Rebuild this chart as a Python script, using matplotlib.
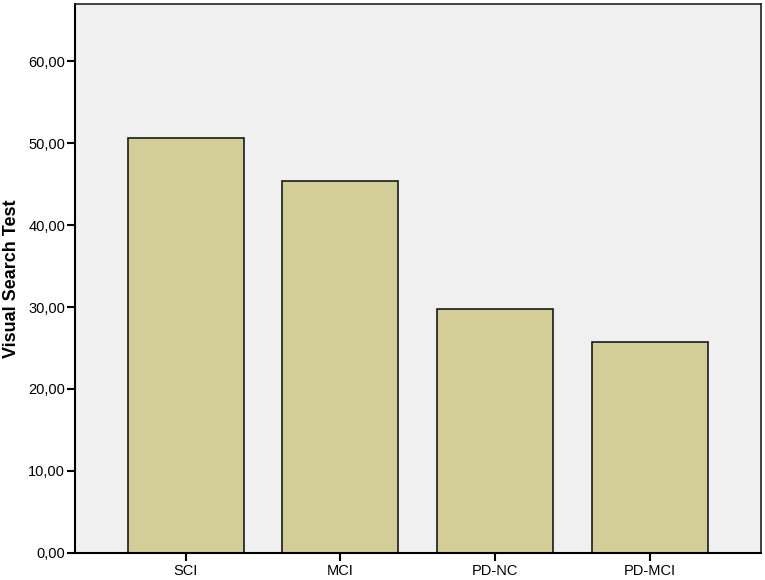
import matplotlib
matplotlib.use("Agg")
import matplotlib.pyplot as plt
from matplotlib.ticker import FuncFormatter

categories = ["SCI", "MCI", "PD-NC", "PD-MCI"]
values = [50.7, 45.4, 29.8, 25.7]
yticks = [0, 10, 20, 30, 40, 50, 60]

plt.rcParams['font.family'] = ['Liberation Sans', 'DejaVu Sans']

fig = plt.figure(figsize=(7.65, 5.8), dpi=100)
ax = fig.add_axes([0.098, 0.047, 0.897, 0.946])
ax.set_facecolor('#F0F0F0')
x = list(range(len(categories)))
ax.bar(x, values, width=0.75, color='#D3CE97', edgecolor='#1a1a1a', linewidth=1.2, zorder=2)
ax.set_xlim(-0.715, 3.72)
ax.set_ylim(0, 67)
ax.set_yticks(yticks)
ax.yaxis.set_major_formatter(FuncFormatter(lambda v, p: f"{v:.2f}".replace('.', ',')))
ax.set_xticks(x)
ax.set_xticklabels(categories)
ax.tick_params(axis='both', direction='out', length=6, width=1.5, labelsize=10.5, colors='black')
ax.tick_params(axis='y', pad=1)
ax.tick_params(axis='x', pad=2)
ax.set_ylabel('Visual Search Test', fontsize=13, fontweight='bold', labelpad=6)
for s in ax.spines.values():
    s.set_linewidth(1.2)
    s.set_color('#222222')
ax.spines['left'].set_linewidth(1.5)
ax.spines['bottom'].set_linewidth(1.5)
ax.spines['left'].set_color('black')
ax.spines['bottom'].set_color('black')
fig.savefig('out.png', dpi=100, facecolor='white')
